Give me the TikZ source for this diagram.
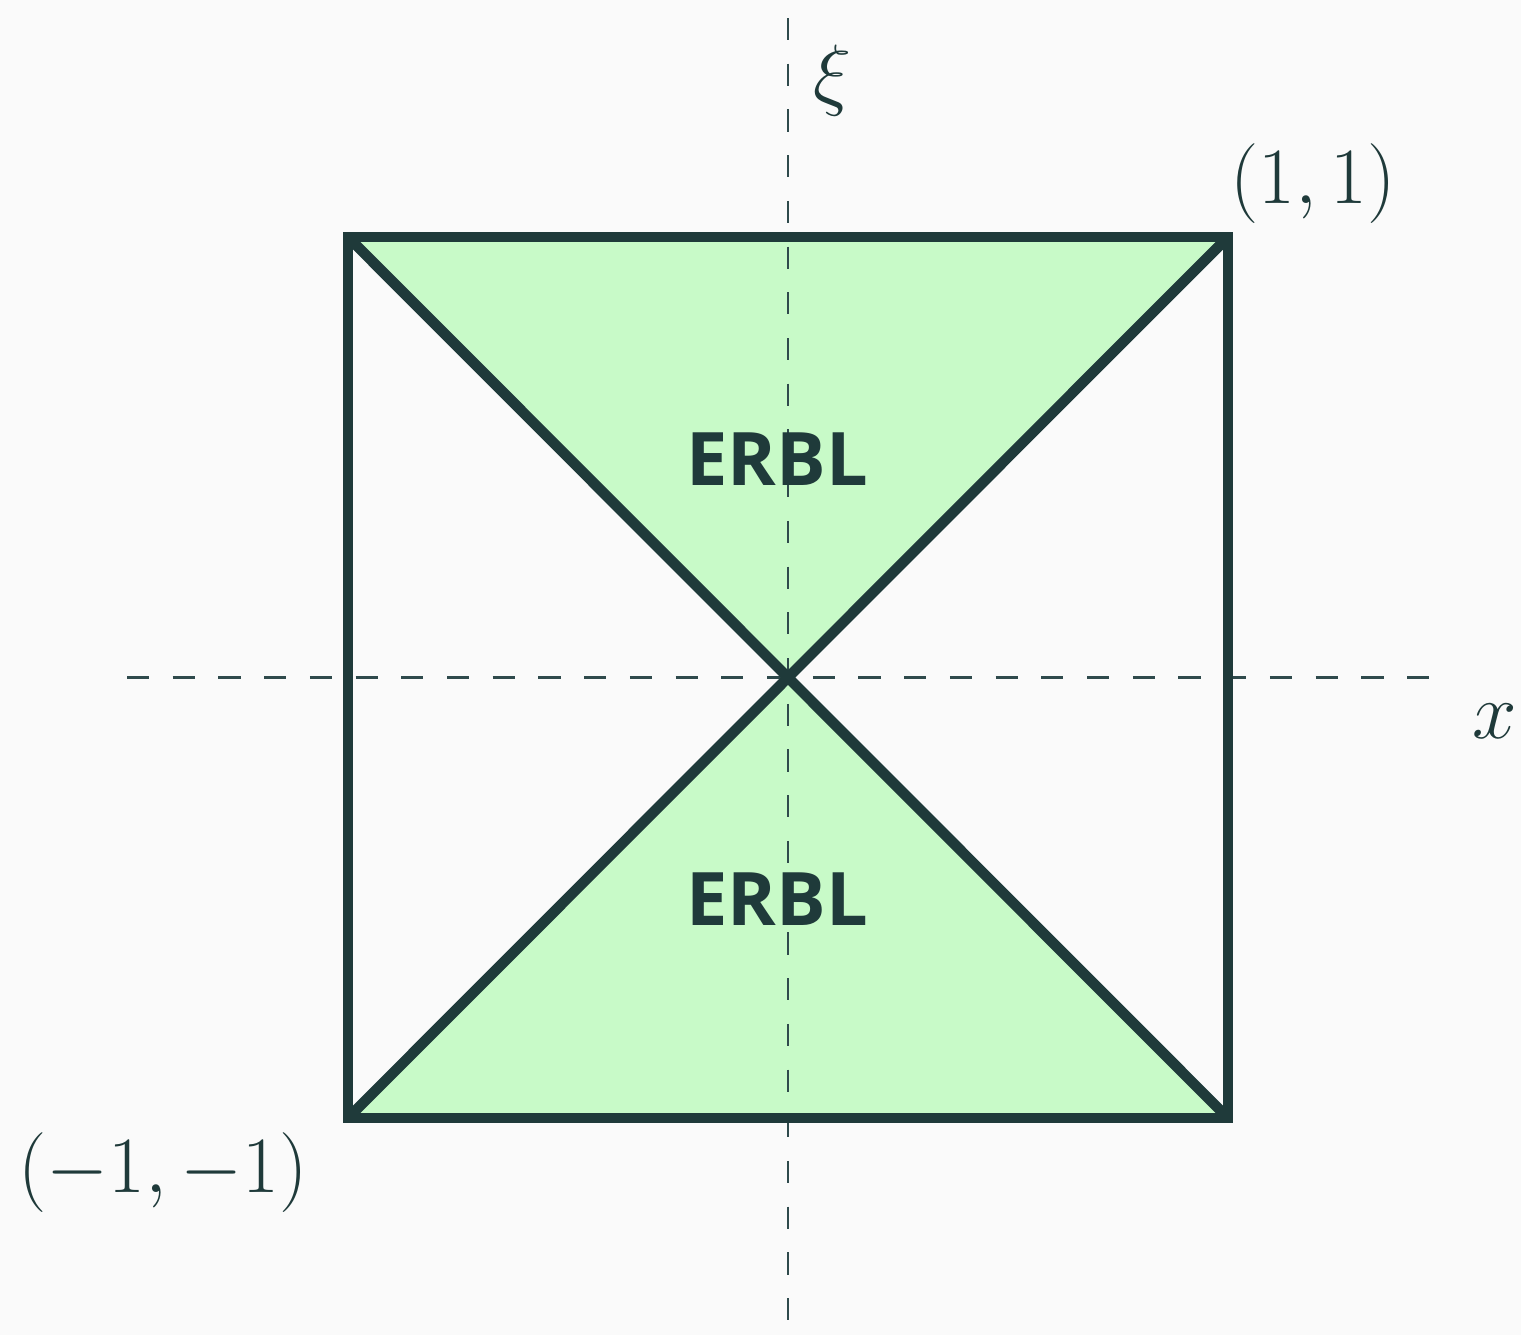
\documentclass[tikz,border=0pt]{standalone}
\usepackage{graphicx}
\usepackage{fontspec}
\newfontfamily\erblfont{Open Sans}
\newcommand\labelscaled[1]{\scalebox{1.095}{#1}}
\begin{document}
\begin{tikzpicture}[x=0.01cm,y=-0.01cm,
  axisline/.style={draw=axisc,line width=0.75pt,dash pattern=on 6.3pt off 6.7pt},
  frameline/.style={draw=darkc,line width=3pt,line join=miter},
  regionfill/.style={fill=greenc,draw=none},
  mathlabel/.style={text=darkc,inner sep=0pt,anchor=base,font=\fontsize{20.74}{25}\selectfont},
  regionlabel/.style={text=darkc,inner sep=0pt,anchor=base,font=\erblfont\bfseries\fontsize{21}{26}\selectfont}]
\definecolor{darkc}{HTML}{1F3A3A}
\definecolor{axisc}{HTML}{2F4A4C}
\definecolor{greenc}{HTML}{C8FAC8}
\definecolor{bgc}{HTML}{FAFAFA}
\fill[bgc] (0,0) rectangle (1521,1335);
\useasboundingbox (0,0) rectangle (1521,1335);
\coordinate (tl) at (348,237);
\coordinate (tr) at (1228,237);
\coordinate (bl) at (348,1118);
\coordinate (br) at (1228,1118);
\coordinate (o) at (788,677.5);
\coordinate (xs) at (127,677.5);
\coordinate (xe) at (1452,677.5);
\coordinate (ys) at (788,18);
\coordinate (ye) at (788,1340);
\fill[regionfill] (tl) -- (tr) -- (o) -- cycle;
\fill[regionfill] (bl) -- (br) -- (o) -- cycle;
\draw[axisline] (xs) -- (xe);
\draw[axisline] (ys) -- (ye);
\draw[frameline] (tl) -- (tr) -- (br) -- (bl) -- cycle;
\draw[frameline] (tl) -- (br);
\draw[frameline] (tr) -- (bl);
\node[regionlabel] (erblup) at (777,485) {ERBL};
\node[regionlabel] (erbldown) at (777,925) {ERBL};
\node[mathlabel] (xi) at (832,100) {\labelscaled{$\xi$}};
\node[mathlabel] (xl) at (1495,738) {\labelscaled{$x$}};
\node[mathlabel] (pp) at (1313,203) {\labelscaled{$(1,1)$}};
\node[mathlabel] (mm) at (163,1192) {\labelscaled{$(-1,-1)$}};
\end{tikzpicture}
\end{document}
